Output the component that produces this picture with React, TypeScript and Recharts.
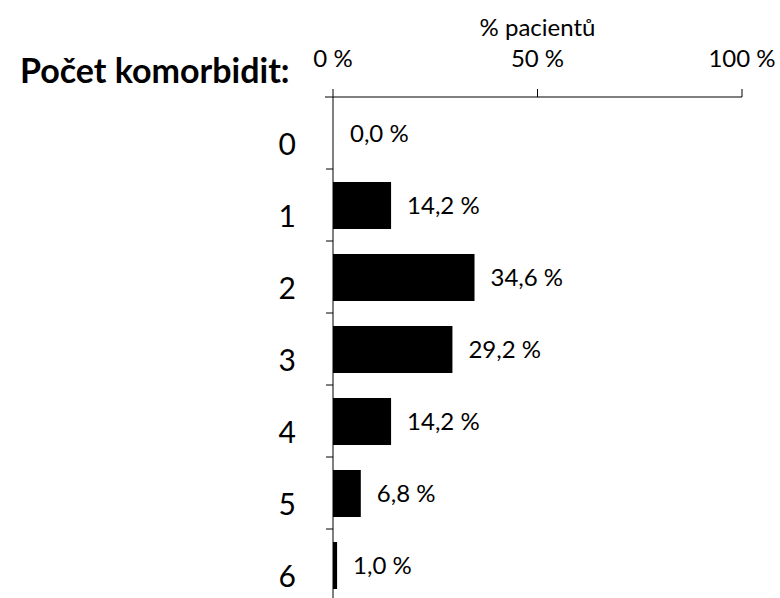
import React from "react";
import { BarChart, Bar, XAxis, YAxis, LabelList, Cell } from "recharts";

const categories = ["0", "1", "2", "3", "4", "5", "6"];
const values = [0, 14.2, 34.6, 29.2, 14.2, 6.8, 1.0];
const xTicks = [0, 50, 100];
const title = "Počet komorbidit:";
const xTitle = "% pacientů";

const data = categories.map((c, i) => ({ k: c, v: values[i] }));
const FONT = "Lato, 'Open Sans', sans-serif";

const CatTick = (props: any) => {
  const { x, y, payload, index } = props;
  const off = payload && payload.offset ? payload.offset : 36;
  return (
    <g>
      <text x={x - 37} y={y + 22} textAnchor="end" fontFamily={FONT} fontSize={30} fill="#000">
        {payload.value}
      </text>
      {index === 0 && <line x1={x - 8} x2={x} y1={y - off} y2={y - off} stroke="#000" strokeWidth={1} />}
      <line x1={x - 7} x2={x} y1={y + off} y2={y + off} stroke="#000" strokeWidth={1} />
    </g>
  );
};

const fmt = (v: any) => `${Number(v).toFixed(1).replace(".", ",")} %`;

export default function App() {
  return (
    <div style={{ position: "absolute", left: 0, top: 0, width: 780, height: 598, overflow: "hidden", background: "#fff" }}>
      <div
        style={{
          position: "absolute",
          left: 20,
          top: 53,
          fontFamily: FONT,
          fontWeight: 700,
          fontSize: 34,
          lineHeight: "34px",
          whiteSpace: "nowrap",
          color: "#000",
        }}
      >
        {title}
      </div>
      <BarChart
        width={780}
        height={610}
        data={data}
        layout="vertical"
        margin={{ top: 0, right: 38, bottom: 9, left: 0 }}
        barSize={47}
      >
        <XAxis
          type="number"
          orientation="top"
          domain={[0, 100]}
          ticks={xTicks}
          height={97}
          axisLine={{ stroke: "#000" }}
          tickLine={{ stroke: "#000" }}
          tickSize={8}
          tickMargin={22}
          tickFormatter={(v: number) => `${v} %`}
          tick={{ fill: "#000", fontSize: 24, fontFamily: FONT }}
          label={{ value: xTitle, position: "insideTop", offset: 19, fill: "#000", fontSize: 24, fontFamily: FONT }}
        />
        <YAxis
          type="category"
          dataKey="k"
          width={333}
          axisLine={{ stroke: "#000" }}
          tickLine={false}
          tickSize={0}
          tickMargin={0}
          tick={<CatTick />}
          interval={0}
        />
        <Bar dataKey="v" fill="#000" minPointSize={1} isAnimationActive={false}>
          {data.map((d, i) => (
            <Cell key={i} fill={d.v === 0 ? "none" : "#000"} />
          ))}
          <LabelList
            dataKey="v"
            position="right"
            offset={16}
            formatter={fmt}
            fill="#000"
            fontSize={24}
            fontFamily={FONT}
          />
        </Bar>
      </BarChart>
    </div>
  );
}
